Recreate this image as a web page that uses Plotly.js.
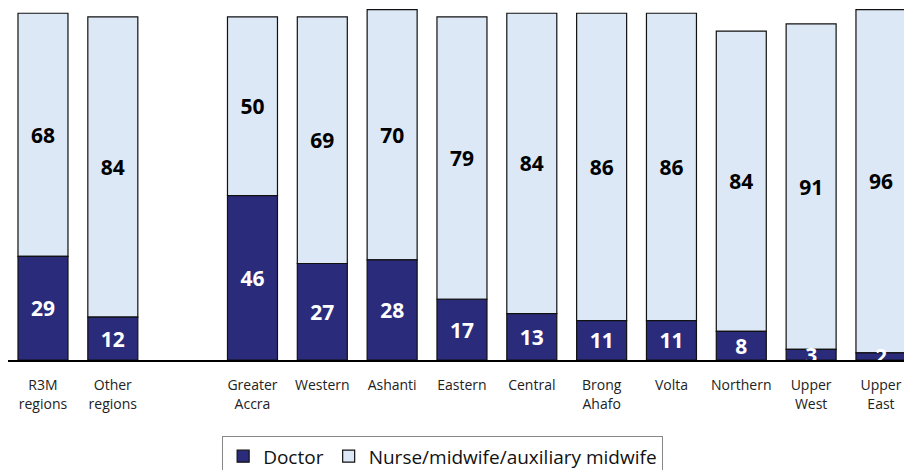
<!DOCTYPE html>
<html>
<head>
<meta charset="utf-8">
<script src="https://cdn.plot.ly/plotly-3.0.1.min.js"></script>
<style>
  html, body { margin: 0; padding: 0; background: #ffffff; }
  #chart { width: 904px; height: 470px; }
</style>
</head>
<body>
<div id="chart"></div>
<script>
// Categories (a blank slot separates the summary groups from the regions)
const categories = [
  "R3M<br>regions", "Other<br>regions", " ",
  "Greater<br>Accra", "Western", "Ashanti", "Eastern", "Central",
  "Brong<br>Ahafo", "Volta", "Northern", "Upper<br>West", "Upper<br>East"
];
// Percent of deliveries attended by each type of provider
const doctorValues = [29, 12, null, 46, 27, 28, 17, 13, 11, 11, 8, 3, 2];
const nurseValues  = [68, 84, null, 50, 69, 70, 79, 84, 86, 86, 84, 91, 96];
const seriesNames = ["Doctor", "Nurse/midwife/auxiliary midwife"];

const labelFont = "'Open Sans', 'Noto Sans', sans-serif";

// Nurse segment sits on top of the doctor segment (base = doctor value);
// it is drawn first so the doctor labels stay visible on top.
const traces = [
  {
    type: "bar",
    name: seriesNames[1],
    x: categories,
    y: nurseValues,
    base: doctorValues.map(v => v === null ? 0 : v),
    text: nurseValues.map(v => v === null ? "" : String(v)),
    textposition: "inside",
    insidetextanchor: "middle",
    constraintext: "none",
    textangle: 0,
    insidetextfont: { family: labelFont, size: 21, color: "#000000", weight: 700 },
    marker: { color: "#dce8f5", line: { color: "#111111", width: 1.2 } },
    cliponaxis: true,
    hoverinfo: "skip"
  },
  {
    type: "bar",
    name: seriesNames[0],
    x: categories,
    y: doctorValues,
    text: doctorValues.map(v => v === null ? "" : String(v)),
    textposition: "inside",
    insidetextanchor: "middle",
    constraintext: "none",
    textangle: 0,
    insidetextfont: { family: labelFont, size: 21, color: "#ffffff", weight: 700 },
    marker: { color: "#2b2b7c", line: { color: "#111111", width: 1.2 } },
    cliponaxis: true,
    hoverinfo: "skip"
  }
];

const layout = {
  width: 904,
  height: 470,
  margin: { l: 8, r: 0, t: 0, b: 110, pad: 0, autoexpand: false },
  paper_bgcolor: "#ffffff",
  plot_bgcolor: "#ffffff",
  barmode: "overlay",
  bargap: 0.284,
  showlegend: true,
  font: { family: labelFont, color: "#222222" },
  xaxis: {
    type: "category",
    range: [-0.501, 12.33],
    showline: true,
    linecolor: "#000000",
    linewidth: 1.5,
    ticks: "",
    showgrid: false,
    zeroline: false,
    tickfont: { family: labelFont, size: 14, color: "#222222" },
    ticklabelstandoff: 12,
    automargin: false,
    fixedrange: true
  },
  yaxis: {
    range: [0, 100.7],
    showline: false,
    showgrid: false,
    zeroline: false,
    showticklabels: false,
    ticks: "",
    fixedrange: true
  },
  legend: {
    orientation: "h",
    x: 0.239,
    xanchor: "left",
    y: -0.212,
    yanchor: "top",
    bordercolor: "#888888",
    borderwidth: 1,
    bgcolor: "#ffffff",
    font: { family: labelFont, size: 19, color: "#111111" },
    itemwidth: 30,
    traceorder: "reversed"
  }
};

Plotly.newPlot("chart", traces, layout, { displayModeBar: false, staticPlot: true });
</script>
</body>
</html>
